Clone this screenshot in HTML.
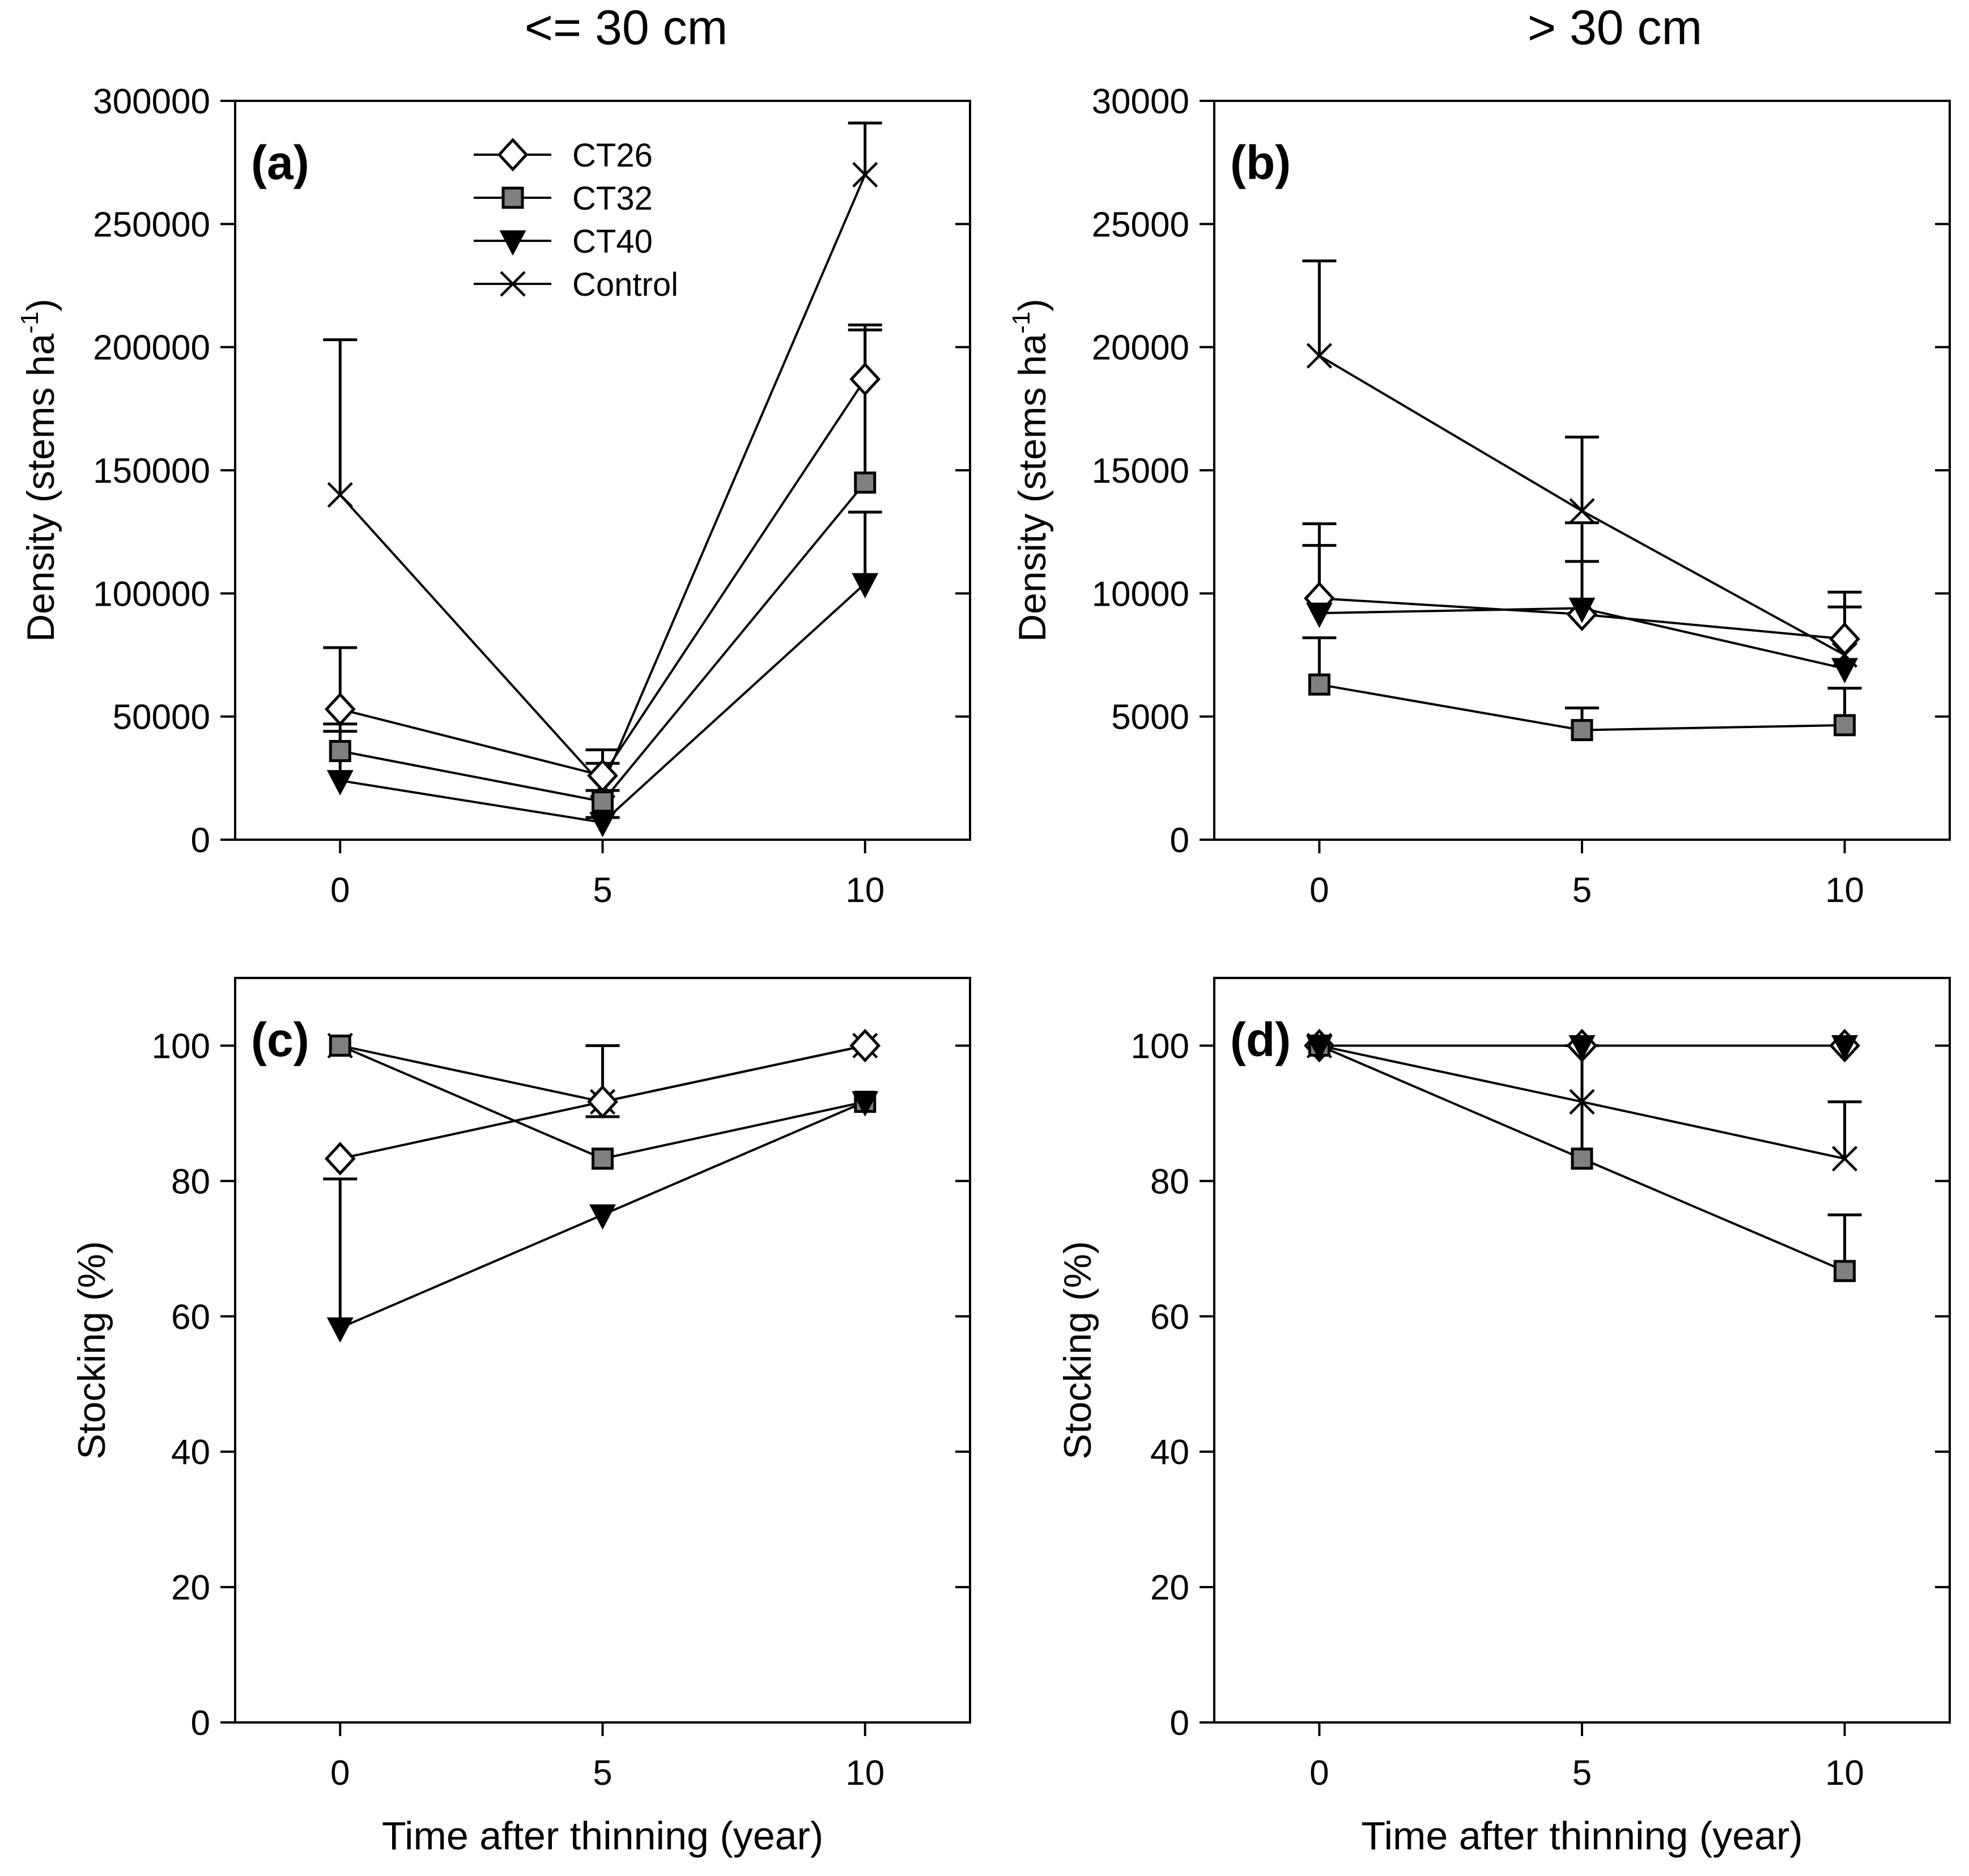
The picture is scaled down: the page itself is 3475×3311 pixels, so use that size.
<!DOCTYPE html>
<html><head><meta charset="utf-8"><style>
html,body{margin:0;padding:0;background:#fff;}
svg{display:block;font-family:"Liberation Sans",Arial,sans-serif;}
</style></head><body>
<svg id="fig" width="3475" height="3311" viewBox="0 0 3475 3311" xmlns="http://www.w3.org/2000/svg">
<rect width="3475" height="3311" fill="#fff"/>
<text x="1105" y="78" font-size="86" text-anchor="middle">&lt;= 30 cm</text>
<text x="2850" y="78" font-size="86" text-anchor="middle">&gt; 30 cm</text>
</svg>
<script>
const years = [0, 5, 10];
const seriesNames = ['CT26', 'CT32', 'CT40', 'Control'];
// panel a: density <=30 cm
const aCT26 = [53000, 26000, 187000];
const aCT32 = [36000, 15500, 145000];
const aCT40 = [24000, 7000, 104000];
const aControl = [140000, 22000, 270000];
const aErrCT26 = [78000, 31000, 209000];
const aErrCT32 = [47000, 20000, 207000];
const aErrCT40 = [44000, 9000, 133000];
const aErrControl = [203000, 36500, 291000];
const aTicks = [0, 50000, 100000, 150000, 200000, 250000, 300000];
// panel b: density >30 cm
const bCT26 = [9800, 9150, 8150];
const bCT32 = [6300, 4450, 4650];
const bCT40 = [9200, 9400, 6950];
const bControl = [19650, 13350, 7500];
const bErrCT26 = [12830, 12870, 10050];
const bErrCT32 = [8200, 5350, 6150];
const bErrCT40 = [11950, 11300, 9450];
const bErrControl = [23500, 16350, 7500];
const bTicks = [0, 5000, 10000, 15000, 20000, 25000, 30000];
// panel c: stocking <=30 cm
const cCT26 = [83.3, 91.7, 100];
const cCT32 = [100, 83.3, 91.7];
const cCT40 = [58.3, 75, 91.7];
const cControl = [100, 91.7, 100];
const cErrCT26 = [83.3, 89.5, 100];
const cErrCT32 = [100, 83.3, 91.7];
const cErrCT40 = [80.3, 75, 91.7];
const cErrControl = [100, 100, 100];
// panel d: stocking >30 cm
const dCT26 = [100, 100, 100];
const dCT32 = [100, 83.3, 66.7];
const dCT40 = [100, 100, 100];
const dControl = [100, 91.7, 83.3];
const dErrCT26 = [100, 100, 100];
const dErrCT32 = [100, 100, 75];
const dErrCT40 = [100, 100, 100];
const dErrControl = [100, 91.7, 91.7];
const stockTicks = [0, 20, 40, 60, 80, 100];
const xTicks = [0, 5, 10];

const NS = 'http://www.w3.org/2000/svg';
const svg = document.getElementById('fig');
function mk(tag, attrs, parent) {
  const e = document.createElementNS(NS, tag);
  for (const k in attrs) e.setAttribute(k, attrs[k]);
  (parent || svg).appendChild(e);
  return e;
}

function panel(cfg) {
  const g = mk('g', {});
  
  
  const L = cfg.left, R = cfg.right, T = cfg.top, B = cfg.bottom;
  const xs = v => L + (v - (-2)) / 14 * (R - L);
  const ys = v => B - (v - cfg.ymin) / (cfg.ymax - cfg.ymin) * (B - T);
  const frame = mk('rect', {x: L, y: T, width: R - L, height: B - T, fill: 'none', stroke: '#000', 'stroke-width': 4}, g);
  
  
  cfg.yTicks.forEach(t => {
    const y = ys(t);
    mk('line', {x1: L - 26, x2: L, y1: y, y2: y, stroke: '#000', 'stroke-width': 4}, g);
    mk('line', {x1: R - 26, x2: R, y1: y, y2: y, stroke: '#000', 'stroke-width': 4}, g);
    const tx = mk('text', {x: L - 44, y: y + 22, 'font-size': 62, 'text-anchor': 'end'}, g);
    tx.textContent = t;
    
    
  });
  xTicks.forEach(t => {
    const x = xs(t);
    mk('line', {x1: x, x2: x, y1: B, y2: B + 24, stroke: '#000', 'stroke-width': 4}, g);
    const tx = mk('text', {x: x, y: B + 110, 'font-size': 62, 'text-anchor': 'middle'}, g);
    tx.textContent = t;
    
    
  });
  const cy = (T + B) / 2;
  const yt = mk('text', {x: 0, y: 0, 'font-size': 68, 'text-anchor': 'middle', transform: `translate(${cfg.ytx},${cy}) rotate(-90)`}, g);
  
  
  if (cfg.density) {
    yt.innerHTML = 'Density (stems ha<tspan font-size="44" dy="-28">-1</tspan><tspan dy="28">)</tspan>';
  } else {
    yt.textContent = 'Stocking (%)';
  }
  if (cfg.xtitle) {
    const xt = mk('text', {x: (L + R) / 2, y: 3264, 'font-size': 70, 'text-anchor': 'middle'}, g);
    xt.textContent = 'Time after thinning (year)';
    
    
  }
  const pl = mk('text', {x: L + 28, y: T + 138, 'font-size': 84, 'font-weight': 'bold'}, g);
  pl.textContent = '(' + cfg.id + ')';
  
  

  const order = [3, 0, 1, 2];
  order.forEach(si => {
    const vals = cfg.series[si], errs = cfg.errs[si];
    years.forEach((yr, i) => {
      if (Math.abs(errs[i] - vals[i]) < 1e-9) return;
      const x = xs(yr);
      const e = mk('path', {d: `M${x},${ys(vals[i])}V${ys(errs[i])}M${x - 30},${ys(errs[i])}H${x + 30}`, stroke: '#000', 'stroke-width': 5, fill: 'none'}, g);
      
      
    });
  });
  order.forEach(si => {
    const vals = cfg.series[si];
    const d = years.map((yr, i) => (i ? 'L' : 'M') + xs(yr) + ',' + ys(vals[i])).join('');
    const p = mk('path', {d: d, stroke: '#000', 'stroke-width': 4, fill: 'none'}, g);
    
    
  });
  order.forEach(si => {
    const vals = cfg.series[si];
    years.forEach((yr, i) => {
      const m = marker(si, xs(yr), ys(vals[i]), g);
      
      
    });
  });
}

function marker(si, x, y, parent) {
  if (si === 0) return mk('path', {d: `M${x},${y - 26}L${x + 24},${y}L${x},${y + 26}L${x - 24},${y}Z`, fill: '#fff', stroke: '#000', 'stroke-width': 5}, parent);
  if (si === 1) return mk('rect', {x: x - 17, y: y - 17, width: 34, height: 34, fill: '#808080', stroke: '#000', 'stroke-width': 5}, parent);
  if (si === 2) return mk('path', {d: `M${x - 21},${y - 17}L${x + 21},${y - 17}L${x},${y + 23}Z`, fill: '#000', stroke: '#000', 'stroke-width': 3}, parent);
  return mk('path', {d: `M${x - 21},${y - 21}L${x + 21},${y + 21}M${x - 21},${y + 21}L${x + 21},${y - 21}`, stroke: '#000', 'stroke-width': 4.5, fill: 'none'}, parent);
}

panel({id: 'a', left: 415, right: 1712, top: 178, bottom: 1482, ymin: 0, ymax: 300000, yTicks: aTicks, ytx: 95, density: true,
  series: [aCT26, aCT32, aCT40, aControl], errs: [aErrCT26, aErrCT32, aErrCT40, aErrControl]});
panel({id: 'b', left: 2143, right: 3441, top: 178, bottom: 1482, ymin: 0, ymax: 30000, yTicks: bTicks, ytx: 1845, density: true,
  series: [bCT26, bCT32, bCT40, bControl], errs: [bErrCT26, bErrCT32, bErrCT40, bErrControl]});
panel({id: 'c', left: 415, right: 1712, top: 1726, bottom: 3040, ymin: 0, ymax: 110, yTicks: stockTicks, ytx: 185, xtitle: true,
  series: [cCT26, cCT32, cCT40, cControl], errs: [cErrCT26, cErrCT32, cErrCT40, cErrControl]});
panel({id: 'd', left: 2143, right: 3441, top: 1726, bottom: 3040, ymin: 0, ymax: 110, yTicks: stockTicks, ytx: 1925, xtitle: true,
  series: [dCT26, dCT32, dCT40, dControl], errs: [dErrCT26, dErrCT32, dErrCT40, dErrControl]});

const lg = mk('g', {});


seriesNames.forEach((n, i) => {
  const y = 273 + i * 76;
  const row = mk('g', {}, lg);
  
  
  mk('line', {x1: 836, x2: 973, y1: y, y2: y, stroke: '#000', 'stroke-width': 4}, row);
  marker(i, 905, y, row);
  const t = mk('text', {x: 1010, y: y + 21, 'font-size': 58}, row);
  t.textContent = n;
});
</script>
</body></html>
